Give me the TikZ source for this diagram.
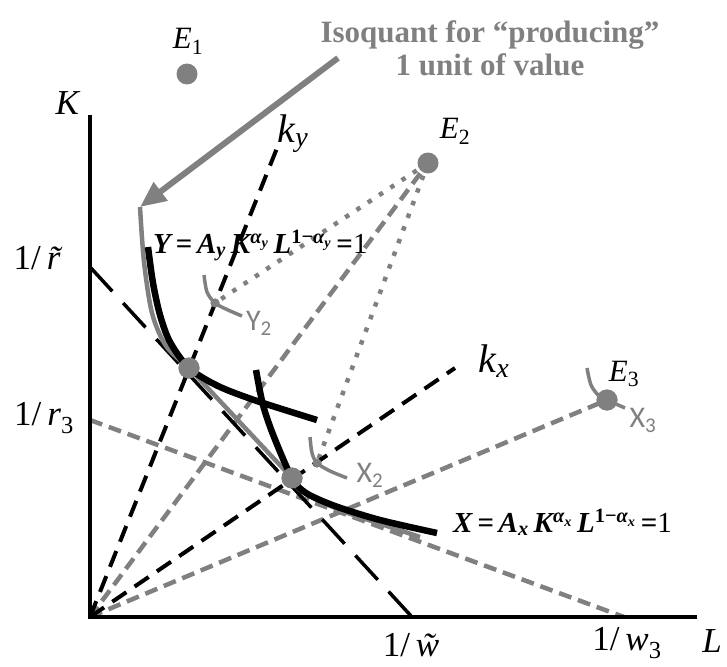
\documentclass[tikz,border=0pt]{standalone}
\usepackage{fontspec}
\setmainfont{Liberation Serif}
\newfontfamily\calib{Carlito}
\usetikzlibrary{arrows.meta}
\definecolor{gr}{RGB}{128,128,128}
\begin{document}
\begin{tikzpicture}[x=1pt,y=-1pt,
  axisline/.style={line width=4pt},
  budget/.style={line width=3.5pt, dash pattern=on 33pt off 16pt},
  ray/.style={line width=4pt, dash pattern=on 17pt off 10pt},
  gdash/.style={gr, line width=4.5pt, dash pattern=on 13pt off 7pt},
  gdot/.style={gr, line width=4.5pt, dash pattern=on 4.5pt off 9pt},
  bcurve/.style={line width=6.5pt},
  gcurve/.style={gr, line width=4.5pt},
  scurve/.style={gr, line width=3.5pt},
  bigdot/.style={circle, fill=gr, inner sep=0pt, minimum size=21pt},
  smalldot/.style={circle, fill=gr, inner sep=0pt, minimum size=9pt},
  lab/.style={inner sep=0pt, font=\fontsize{31}{36}\selectfont},
  alab/.style={inner sep=0pt, font=\fontsize{35}{40}\selectfont},
  klab/.style={inner sep=0pt, font=\fontsize{40}{44}\selectfont},
  glab/.style={inner sep=0pt, text=gr, font=\calib\fontsize{30}{34}\selectfont},
  title/.style={inner sep=0pt, text=gr, align=center, font=\bfseries\fontsize{31}{33}\selectfont},
  formula/.style={inner sep=0pt, anchor=base west, font=\fontsize{29}{34}\selectfont}
]
\useasboundingbox (0,0) rectangle (727,666);

% key coordinates
\coordinate (O) at (90,617);
\coordinate (Ktop) at (90,115);
\coordinate (Lend) at (697,617);
\coordinate (rt) at (90,267);
\coordinate (wt) at (412,617);
\coordinate (r3) at (90,420);
\coordinate (w3) at (624,617);
\coordinate (kyend) at (277,148);
\coordinate (kxend) at (455,368);
\coordinate (arrS) at (338,58);
\coordinate (isoTop) at (140,207);

% points
\node[bigdot] (E1) at (187,74) {};
\node[bigdot] (E2) at (428,163) {};
\node[bigdot] (E3) at (607,400) {};
\node[bigdot] (Yp) at (189,368) {};
\node[bigdot] (Xp) at (292,478) {};
\node[smalldot] (Y2) at (215,303) {};
\node[smalldot] (X2) at (317,463) {};

% dashed and dotted lines
\draw[gdash] (r3) -- (w3);
\draw[gdash] (O) -- (E2.center);
\draw[gdash] (O) -- (E3.center);
\draw[gdot] (E2.center) -- (Y2.center);
\draw[gdot] (E2.center) -- (X2.center);
\draw[budget] (rt) -- (wt);
\draw[ray] (O) -- (kyend);
\draw[ray] (O) -- (kxend);

% axes
\draw[axisline] (Ktop) -- (O) -- (Lend);

% big isoquant (gray)
\draw[gcurve] plot[smooth] coordinates {(isoTop) (144,262) (152,313) (166,346) (Yp.center)}
  -- plot[smooth] coordinates {(Xp.center) (300,490) (340,510) (390,527) (420,537)};

% black isoquants
\draw[bcurve] plot[smooth] coordinates {(148,247) (153,283) (160,315) (170,342) (Yp.center) (218,386) (257,401) (317,420)};
\draw[bcurve] plot[smooth] coordinates {(256,370) (263,405) (274,437) (Xp.center) (306,493) (335,506) (380,520) (437,533)};

% small isoquants
\draw[scurve] plot[smooth] coordinates {(204,275) (207,292) (Y2.center) (228,310) (242,316)};
\draw[scurve] plot[smooth] coordinates {(310,437) (312,453) (X2.center) (330,471) (347,478)};
\draw[scurve] plot[smooth] coordinates {(587,368) (591,385) (599,396) (E3.center) (625,408)};

% redraw dots on top
\fill[gr] (E3) circle (10.5pt) (Yp) circle (10.5pt) (Xp) circle (10.5pt)
  (Y2) circle (4.5pt) (X2) circle (4.5pt);

% arrow
\draw[gr, line width=6pt, -{Triangle[length=26pt,width=22pt]}] (arrS) -- (isoTop);

% labels
\node[title] (tt) at (490,48) {Isoquant for “producing”\\1 unit of value};
\node[lab] (lE1) at (188,41) {\textit{E}\textsubscript{1}};
\node[lab] (lE2) at (455,131) {\textit{E}\textsubscript{2}};
\node[lab] (lE3) at (624,374) {\textit{E}\textsubscript{3}};
\node[alab] (lK) at (68,103) {\textit{K}};
\node[alab] (lL) at (712,641) {\textit{L}};
\node[klab] (lky) at (293,134) {\textit{k\textsubscript{y}}};
\node[klab] (lkx) at (494,361) {\textit{k\textsubscript{x}}};
\node[alab] (lrt) at (44,258) {1/\,\textit{\~r}};
\node[alab] (lr3) at (44,418) {1/\,\textit{r}\textsubscript{3}};
\node[alab] (lwt) at (418,645) {1/\,\textit{\~w}};
\node[alab] (lw3) at (627,643) {1/\,\textit{w}\textsubscript{3}};
\node[formula] (fY) at (153,253) {{\bfseries\itshape Y\,=\,A\textsubscript{y}\kern5pt K\textsuperscript{α\textsubscript{y}}\,L\textsuperscript{\upshape 1−\itshape α\textsubscript{y}}}\,\textbf{=}1};
\node[formula] (fX) at (453,532) {{\bfseries\itshape X\,=\,A\textsubscript{x}\kern5pt K\textsuperscript{α\textsubscript{x}}\,L\textsuperscript{\upshape 1−\itshape α\textsubscript{x}}}\,\textbf{=}1};
\node[glab] (lY2) at (259,323) {Y\textsubscript{2}};
\node[glab] (lX2) at (370,475) {X\textsubscript{2}};
\node[glab] (lX3) at (643,420) {X\textsubscript{3}};
\end{tikzpicture}
\end{document}
